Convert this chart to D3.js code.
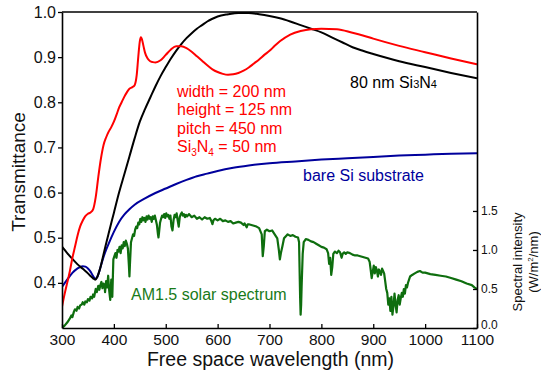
<!DOCTYPE html>
<html>
<head>
<meta charset="utf-8">
<script src="https://cdn.jsdelivr.net/npm/d3@7"></script>
<style>
  html, body { margin: 0; padding: 0; background: #fff; }
  svg { display: block; font-family: Arial, "Liberation Sans", Helvetica, sans-serif; }
</style>
</head>
<body>
<svg id="chart" width="541" height="373"></svg>
<script>
// Transmittance spectra (wavelength in nm, transmittance)
const wavelengthTicks = [300, 400, 500, 600, 700, 800, 900, 1000, 1100];
const transTicks = [0.4, 0.5, 0.6, 0.7, 0.8, 0.9, 1.0];
const intensityTicks = [0.0, 0.5, 1.0, 1.5];

// nanostructured Si3N4 (width 200 nm, height 125 nm, pitch 450 nm)
const nanoCurve = [
  [300,0.347],[305,0.375],[310,0.40],[315,0.425],[320,0.455],[325,0.48],[330,0.505],
  [335,0.525],[340,0.538],[345,0.548],[350,0.553],[355,0.556],[360,0.563],[365,0.59],
  [370,0.635],[375,0.675],[380,0.705],[385,0.722],[390,0.735],[395,0.745],[400,0.757],
  [405,0.772],[410,0.788],[415,0.80],[420,0.812],[425,0.822],[430,0.830],[435,0.833],
  [440,0.838],[444,0.86],[447,0.90],[450,0.935],[452,0.944],[454,0.94],[457,0.925],
  [460,0.91],[465,0.897],[470,0.891],[475,0.889],[480,0.888],[490,0.893],[500,0.905],
  [510,0.917],[520,0.924],[530,0.924],[540,0.92],[550,0.912],[560,0.902],[570,0.892],
  [580,0.882],[590,0.873],[600,0.867],[610,0.863],[620,0.861],[630,0.862],[640,0.865],
  [650,0.870],[660,0.877],[670,0.886],[680,0.895],[690,0.905],[700,0.914],[710,0.925],
  [720,0.935],[740,0.950],[760,0.958],[780,0.962],[800,0.963],[830,0.962],[860,0.954],
  [880,0.948],[900,0.941],[950,0.925],[1000,0.911],[1050,0.897],[1100,0.884]
];

// planar 80 nm Si3N4 film
const filmCurve = [
  [300,0.48],[310,0.466],[320,0.453],[330,0.441],[340,0.431],[350,0.421],[355,0.415],
  [360,0.41],[364,0.407],[368,0.413],[372,0.426],[376,0.443],[380,0.463],[390,0.51],
  [400,0.555],[410,0.60],[420,0.64],[430,0.68],[440,0.72],[450,0.757],[460,0.785],
  [470,0.81],[480,0.835],[490,0.858],[500,0.878],[510,0.897],[520,0.914],[530,0.929],
  [540,0.942],[550,0.953],[560,0.963],[570,0.971],[580,0.979],[590,0.985],[600,0.99],
  [620,0.995],[640,0.998],[660,0.998],[680,0.995],[700,0.991],[720,0.986],[740,0.979],
  [760,0.971],[780,0.963],[800,0.955],[820,0.944],[840,0.933],[860,0.922],[880,0.914],
  [900,0.907],[950,0.891],[1000,0.878],[1050,0.865],[1100,0.853]
];

// bare Si substrate
const bareCurve = [
  [300,0.391],[310,0.407],[320,0.422],[330,0.432],[340,0.437],[345,0.436],[350,0.432],
  [355,0.425],[360,0.415],[364,0.409],[368,0.413],[372,0.426],[376,0.442],[380,0.457],
  [385,0.473],[390,0.487],[400,0.513],[410,0.535],[420,0.551],[430,0.563],[440,0.573],
  [460,0.587],[480,0.599],[500,0.609],[520,0.619],[540,0.628],[560,0.636],[580,0.642],
  [600,0.648],[630,0.655],[660,0.660],[700,0.665],[750,0.669],[800,0.673],[850,0.676],
  [900,0.679],[950,0.682],[1000,0.684],[1050,0.686],[1100,0.687]
];

// AM1.5 solar spectral irradiance (W/m^2/nm)
const solarSpectrum = [
  [300,0.00],[305,0.03],[310,0.07],[315,0.12],[318,0.16],[320,0.14],[323,0.21],[325,0.24],
  [328,0.22],[330,0.27],[333,0.25],[335,0.29],[338,0.30],[340,0.33],[343,0.30],[345,0.34],
  [348,0.33],[350,0.37],[353,0.35],[355,0.40],[358,0.38],[360,0.43],[362,0.40],[365,0.50],
  [367,0.46],[370,0.54],[372,0.49],[374,0.55],[376,0.59],[378,0.51],[380,0.57],[382,0.55],
  [383,0.46],[385,0.60],[387,0.52],[389,0.67],[391,0.48],[393,0.36],[395,0.62],[397,0.40],
  [399,0.88],[401,0.92],[403,0.96],[405,0.90],[407,1.00],[409,0.98],[411,1.04],[413,0.96],
  [415,1.06],[417,1.02],[419,1.10],[421,1.05],[423,1.12],[425,1.08],[427,1.02],[429,0.80],
  [430,0.66],[431,0.82],[433,1.10],[435,1.15],[437,1.20],[439,1.18],[441,1.26],[443,1.30],
  [445,1.28],[447,1.35],[449,1.33],[451,1.40],[453,1.36],[455,1.42],[457,1.38],[459,1.41],
  [461,1.36],[463,1.43],[465,1.39],[467,1.44],[469,1.40],[471,1.42],[473,1.36],[475,1.43],
  [477,1.40],[479,1.44],[481,1.38],[483,1.32],[485,1.20],[486,1.16],[487,1.22],[489,1.35],
  [491,1.40],[493,1.44],[495,1.42],[497,1.46],[499,1.41],[501,1.47],[503,1.43],[505,1.45],
  [507,1.40],[509,1.44],[511,1.30],[513,1.25],[515,1.38],[517,1.45],[519,1.42],[521,1.47],
  [523,1.38],[525,1.30],[527,1.42],[529,1.46],[531,1.48],[533,1.44],[535,1.46],[537,1.42],
  [539,1.45],[541,1.43],[545,1.46],[550,1.42],[555,1.44],[560,1.40],[565,1.42],[570,1.39],
  [575,1.42],[580,1.40],[585,1.41],[588,1.37],[590,1.33],[592,1.38],[595,1.40],[600,1.38],
  [605,1.40],[610,1.37],[615,1.38],[620,1.36],[625,1.37],[630,1.34],[635,1.35],[640,1.36],
  [645,1.35],[650,1.32],[652,1.34],[656,1.29],[658,1.33],[660,1.33],[665,1.32],[670,1.31],
  [675,1.30],[680,1.28],[685,1.20],[687,0.92],[689,1.05],[691,1.24],[695,1.26],[700,1.24],
  [705,1.25],[710,1.20],[715,1.15],[718,1.00],[720,0.88],[722,0.96],[725,1.05],[728,1.15],
  [732,1.18],[735,1.20],[740,1.18],[745,1.19],[750,1.17],[755,1.16],[757,1.10],[759,0.40],
  [760,0.17],[761,0.30],[762,0.55],[764,0.95],[766,1.10],[768,1.12],[770,1.14],[775,1.13],
  [780,1.11],[785,1.10],[790,1.08],[795,1.06],[800,1.04],[805,1.03],[810,1.01],[813,0.96],
  [815,0.82],[817,0.90],[819,0.68],[821,0.78],[823,0.95],[826,0.98],[830,0.96],[833,0.99],
  [836,0.97],[839,0.90],[841,0.95],[844,0.97],[847,0.95],[850,0.97],[855,0.96],[860,0.94],
  [865,0.93],[870,0.93],[875,0.92],[880,0.91],[885,0.90],[890,0.89],[893,0.85],[895,0.75],
  [897,0.64],[899,0.72],[901,0.80],[903,0.70],[905,0.78],[907,0.74],[909,0.66],[911,0.75],
  [913,0.72],[915,0.68],[917,0.76],[919,0.73],[921,0.70],[923,0.60],[925,0.50],[927,0.45],
  [929,0.30],[931,0.38],[933,0.22],[935,0.40],[937,0.17],[939,0.28],[941,0.44],[943,0.30],
  [945,0.20],[947,0.36],[949,0.42],[951,0.30],[953,0.38],[955,0.45],[957,0.40],[959,0.50],
  [961,0.44],[963,0.55],[965,0.52],[967,0.58],[969,0.62],[971,0.66],[975,0.68],[980,0.70],
  [985,0.72],[990,0.73],[995,0.71],[1000,0.71],[1010,0.69],[1020,0.68],[1030,0.67],
  [1040,0.66],[1050,0.64],[1060,0.62],[1070,0.60],[1080,0.57],[1090,0.55],[1095,0.52],
  [1100,0.50]
];

const svg = d3.select("#chart");
const plot = { left: 62, right: 477, top: 12, bottom: 328 };

const x = d3.scaleLinear().domain([300, 1100]).range([plot.left, plot.right]);
const y = d3.scaleLinear().domain([0.3, 1.0]).range([plot.bottom, plot.top]);
const yR = d3.scaleLinear().domain([0, 4.05]).range([plot.bottom, plot.top]);

svg.append("defs").append("clipPath").attr("id", "plotClip")
  .append("rect")
  .attr("x", plot.left).attr("y", plot.top)
  .attr("width", plot.right - plot.left).attr("height", plot.bottom - plot.top);

const curves = svg.append("g").attr("clip-path", "url(#plotClip)");

const smooth = d3.line().x(d => x(d[0])).y(d => y(d[1])).curve(d3.curveMonotoneX);
const solarLine = d3.line().x(d => x(d[0])).y(d => yR(d[1]));

curves.append("path").datum(solarSpectrum)
  .attr("d", solarLine).attr("fill", "none")
  .attr("stroke", "#0e6e0e").attr("stroke-width", 2.2).attr("stroke-linejoin", "round");

curves.append("path").datum(bareCurve)
  .attr("d", smooth).attr("fill", "none")
  .attr("stroke", "#00009c").attr("stroke-width", 2);

curves.append("path").datum(filmCurve)
  .attr("d", smooth).attr("fill", "none")
  .attr("stroke", "#000").attr("stroke-width", 2);

curves.append("path").datum(nanoCurve)
  .attr("d", smooth).attr("fill", "none")
  .attr("stroke", "#ff0000").attr("stroke-width", 2);

// axes
const xAxis = d3.axisBottom(x).tickValues(wavelengthTicks).tickFormat(d3.format("d"))
  .tickSizeInner(-4).tickSizeOuter(0).tickPadding(6);
const yAxis = d3.axisLeft(y).tickValues(transTicks).tickFormat(d3.format(".1f"))
  .tickSizeInner(4).tickSizeOuter(0).tickPadding(2);
const yRAxis = d3.axisRight(yR).tickValues(intensityTicks).tickFormat(d3.format(".1f"))
  .tickSizeInner(-4).tickSizeOuter(0).tickPadding(4);

const gx = svg.append("g").attr("transform", `translate(0,${plot.bottom})`).call(xAxis);
const gy = svg.append("g").attr("transform", `translate(${plot.left},0)`).call(yAxis);
const gyR = svg.append("g").attr("transform", `translate(${plot.right},0)`).call(yRAxis);

[gx, gy, gyR].forEach(g => {
  g.select(".domain").attr("stroke", "#000").attr("stroke-width", 1.6);
  g.selectAll(".tick line").attr("stroke", "#000").attr("stroke-width", 1.3);
  g.selectAll(".tick text").attr("fill", "#111").attr("font-family", "Arial, 'Liberation Sans', sans-serif");
});
gx.selectAll(".tick text").attr("font-size", 15.5);
gy.selectAll(".tick text").attr("font-size", 16);
gyR.selectAll(".tick text").attr("font-size", 12);
// lift the bottom intensity label clear of the wavelength labels
gyR.selectAll(".tick text").filter(d => d === 0).attr("dy", "0.05em");

// top frame line
svg.append("line")
  .attr("x1", plot.left).attr("x2", plot.right)
  .attr("y1", plot.top).attr("y2", plot.top)
  .attr("stroke", "#000").attr("stroke-width", 1.6);

// axis titles
svg.append("text")
  .attr("x", (plot.left + plot.right) / 2 + 1).attr("y", 366)
  .attr("text-anchor", "middle").attr("font-size", 19.5).attr("fill", "#111")
  .text("Free space wavelength (nm)");

svg.append("text")
  .attr("transform", "translate(25,172) rotate(-90)")
  .attr("text-anchor", "middle").attr("font-size", 19).attr("fill", "#111")
  .text("Transmittance");

const rTitle = svg.append("text")
  .attr("transform", "translate(522,262) rotate(-90)")
  .attr("text-anchor", "middle").attr("font-size", 13).attr("fill", "#111");
rTitle.append("tspan").attr("x", 0).attr("dy", 0).text("Spectral intensity");
const unit = rTitle.append("tspan").attr("x", 0).attr("dy", 16);
unit.append("tspan").text("(W/m");
unit.append("tspan").attr("font-size", 8).attr("dy", -5).text("2");
unit.append("tspan").attr("dy", 5).text("/nm)");

// curve annotations
const film = svg.append("text").attr("x", 350).attr("y", 88)
  .attr("font-size", 16).attr("fill", "#000");
film.append("tspan").text("80 nm Si");
film.append("tspan").attr("font-size", 11).text("3");
film.append("tspan").text("N");
film.append("tspan").attr("font-size", 11).text("4");

const nanoLabels = ["width = 200 nm", "height = 125 nm", "pitch = 450 nm"];
const nano = svg.append("g").attr("fill", "#ff0000").attr("font-size", 16);
nanoLabels.forEach((t, i) => {
  nano.append("text").attr("x", 177).attr("y", 96.5 + i * 18.5).text(t);
});
const si = nano.append("text").attr("x", 177).attr("y", 96.5 + 3 * 18.5);
si.append("tspan").text("Si");
si.append("tspan").attr("font-size", 10).attr("dy", 3.5).text("3");
si.append("tspan").attr("dy", -3.5).text("N");
si.append("tspan").attr("font-size", 10).attr("dy", 3.5).text("4");
si.append("tspan").attr("dy", -3.5).text(" = 50 nm");

svg.append("text").attr("x", 303).attr("y", 181)
  .attr("font-size", 16).attr("fill", "#00009c").text("bare Si substrate");

svg.append("text").attr("x", 131).attr("y", 300)
  .attr("font-size", 16).attr("fill", "#187a18").text("AM1.5 solar spectrum");
</script>
</body>
</html>
